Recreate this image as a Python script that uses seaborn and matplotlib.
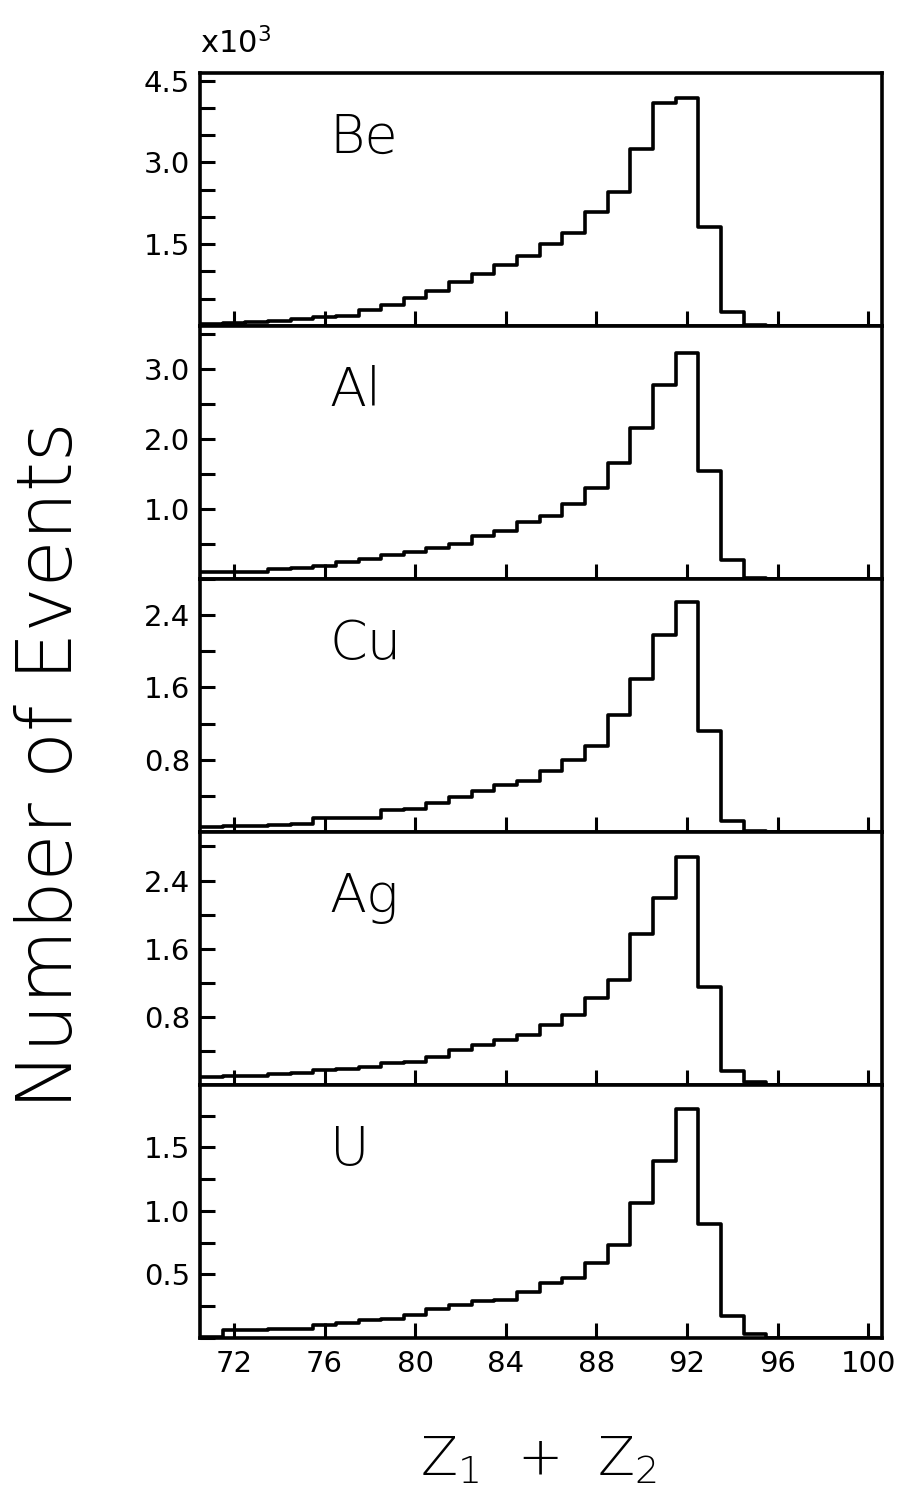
import numpy as np
import pandas as pd
import matplotlib
matplotlib.use("Agg")
import matplotlib.pyplot as plt
import seaborn as sns
from matplotlib.ticker import MultipleLocator, FormatStrFormatter

# Z1 + Z2 bin centres (bins one unit wide)
z_values = list(range(71, 101))

# counts per bin, in units of 10^3 events
be_counts = [0.04, 0.05, 0.07, 0.10, 0.13, 0.17, 0.18, 0.30, 0.38, 0.52,
             0.65, 0.81, 0.95, 1.12, 1.29, 1.51, 1.71, 2.09, 2.45, 3.25,
             4.09, 4.18, 1.82, 0.25, 0.01, 0.0, 0.0, 0.0, 0.0, 0.0]
al_counts = [0.10, 0.10, 0.10, 0.14, 0.16, 0.18, 0.24, 0.29, 0.34, 0.39,
             0.45, 0.50, 0.62, 0.68, 0.81, 0.90, 1.08, 1.30, 1.66, 2.16,
             2.77, 3.24, 1.55, 0.27, 0.02, 0.0, 0.0, 0.0, 0.0, 0.0]
cu_counts = [0.06, 0.07, 0.07, 0.08, 0.09, 0.16, 0.16, 0.16, 0.24, 0.26,
             0.32, 0.39, 0.45, 0.52, 0.56, 0.67, 0.80, 0.95, 1.29, 1.69,
             2.18, 2.54, 1.12, 0.12, 0.01, 0.0, 0.0, 0.0, 0.0, 0.0]
ag_counts = [0.09, 0.10, 0.11, 0.13, 0.14, 0.18, 0.19, 0.21, 0.26, 0.27,
             0.33, 0.41, 0.47, 0.53, 0.59, 0.70, 0.82, 1.02, 1.23, 1.77,
             2.19, 2.68, 1.15, 0.16, 0.03, 0.0, 0.0, 0.0, 0.0, 0.0]
u_counts = [0.01, 0.06, 0.06, 0.07, 0.07, 0.10, 0.12, 0.14, 0.15, 0.18,
            0.23, 0.26, 0.29, 0.30, 0.36, 0.43, 0.47, 0.59, 0.73, 1.06,
            1.39, 1.80, 0.90, 0.17, 0.03, 0.0, 0.0, 0.0, 0.0, 0.0]

targets = ["Be", "Al", "Cu", "Ag", "U"]
all_counts = [be_counts, al_counts, cu_counts, ag_counts, u_counts]
y_tops = [4.64, 3.62, 2.80, 2.97, 1.99]
y_major = [1.5, 1.0, 0.8, 0.8, 0.5]
y_minor = [0.5, 0.5, 0.4, 0.4, 0.25]

sns.set_style("ticks")
plt.rcParams["font.family"] = ["DejaVu Sans"]
plt.rcParams["mathtext.default"] = "regular"
for key in ["text.color", "axes.edgecolor", "axes.labelcolor",
            "xtick.color", "ytick.color"]:
    plt.rcParams[key] = "black"

fig = plt.figure(figsize=(9.09, 14.89), dpi=100)
left, width = 0.220, 0.750
top, bottom = 1 - 73 / 1489, 1 - 1338 / 1489
h = (top - bottom) / 5

for i, t in enumerate(targets):
    df = pd.DataFrame({"z": np.array(z_values, dtype=float),
                       "count": np.array(all_counts[i], dtype=float)})
    ax = fig.add_axes([left, top - (i + 1) * h, width, h])
    sns.histplot(data=df, x="z", weights="count", binwidth=1,
                 binrange=(70.5, 100.5), element="step", fill=False,
                 color="black", linewidth=2.6, ax=ax)
    ax.set_xlim(70.5, 100.6)
    ax.set_ylim(0, y_tops[i])
    ax.set_xlabel("")
    ax.set_ylabel("")
    ax.xaxis.set_major_locator(MultipleLocator(4))
    ax.set_yticks([v for v in np.arange(y_major[i], y_tops[i], y_major[i])])
    ax.yaxis.set_minor_locator(MultipleLocator(y_minor[i]))
    ax.yaxis.set_major_formatter(FormatStrFormatter("%.1f"))
    ax.tick_params(axis="both", which="both", direction="in", length=11,
                   width=2.2, top=False, right=False, labelsize=21)
    ax.tick_params(axis="x", pad=9)
    ax.tick_params(axis="y", pad=7)
    if i < 4:
        ax.tick_params(axis="x", labelbottom=False)
    for s in ax.spines.values():
        s.set_linewidth(2.6)
        s.set_visible(True)
    ax.text(0.19, 0.685, t, transform=ax.transAxes, fontsize=39,
            fontweight=200, ha="left", va="baseline")

fig.text(left, 1 - 53 / 1489, r"x10$^3$", fontsize=22, ha="left", va="baseline")
fig.text(0.056, 0.486, "Number of Events", rotation=90, fontsize=55,
         fontweight=200, ha="center", va="center")
fig.text(left + width / 2 - 0.003, 1 - 1475 / 1489, r"$Z_1$  +  $Z_2$",
         fontsize=39, fontweight=200, ha="center", va="baseline")

fig.savefig("out.png", dpi=100)
